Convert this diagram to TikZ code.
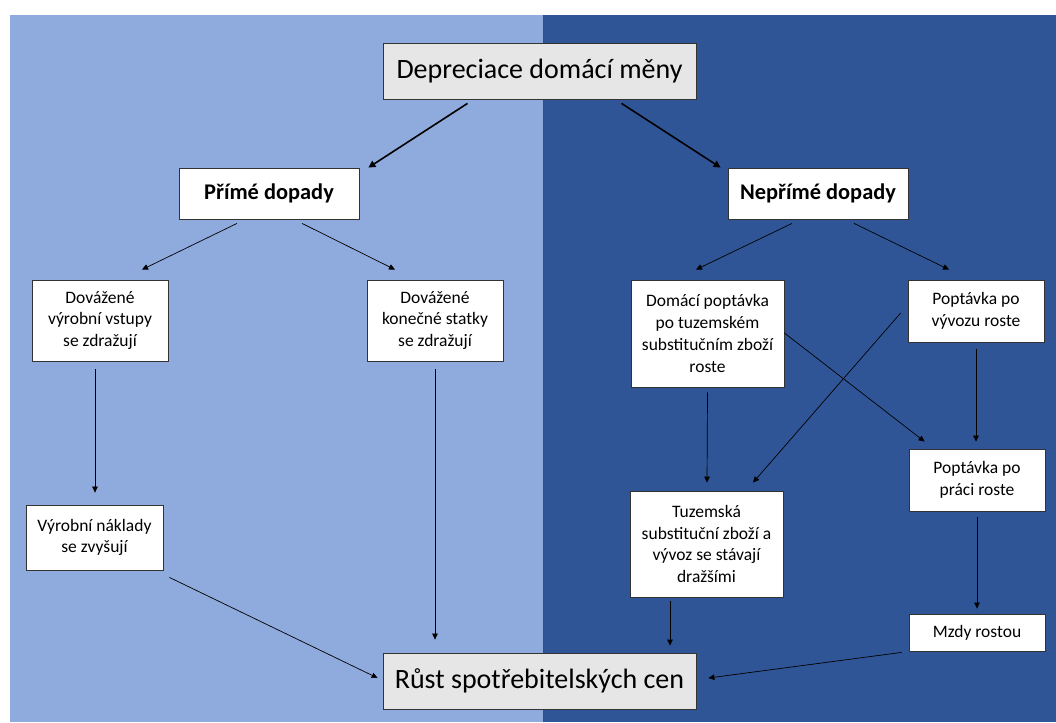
\documentclass[tikz,border=0pt]{standalone}
\usepackage{fontspec}
\setmainfont{Carlito}
\usetikzlibrary{calc,arrows.meta}
\definecolor{lightblue}{HTML}{8FAADC}
\definecolor{darkblue}{HTML}{2F5597}
\definecolor{boxgray}{HTML}{E7E6E6}

\tikzset{
  box/.style={draw=black!80, fill=white, line width=0.8pt, align=center, inner sep=2pt,
    font=\fontsize{17.5}{21.7}\selectfont},
  bigbox/.style={box, fill=boxgray, font=\fontsize{28}{32}\selectfont},
  headbox/.style={box, font=\fontsize{22.4}{26}\selectfont\bfseries},
  arr/.style={-{Triangle[length=6pt,width=5.5pt]}, line width=0.7pt},
  bigarr/.style={-{Triangle[length=7pt,width=7pt]}, line width=1.6pt}
}

\begin{document}
\begin{tikzpicture}[x=1pt,y=-1pt]
				\useasboundingbox (0,0) rectangle (1056,722);
				\fill[lightblue] (10,15) rectangle (543,722);
				\fill[darkblue]  (543,15) rectangle (1056,722);
				\draw[black!70, line width=0.8pt] (543,15) -- (543,722);
				
				\node[bigbox, minimum width=313, minimum height=56] (depr) at (539.5,71) {Depreciace domácí měny};
				\node[headbox, minimum width=180, minimum height=51] (prime) at (269,193.5) {Přímé dopady};
				\node[headbox, minimum width=180, minimum height=51] (neprime) at (818,193.5) {Nepřímé dopady};
				
				\node[box, minimum width=136, minimum height=81] (vstupy) at (100,320.5) {Dovážené\\výrobní vstupy\\se zdražují};
				\node[box, minimum width=136, minimum height=81] (statky) at (435,320.5) {Dovážené\\konečné statky\\se zdražují};
				\node[box, minimum width=137, minimum height=65] (naklady) at (94.5,537.5) {Výrobní náklady\\se zvyšují};
				
				\node[box, minimum width=153, minimum height=107] (domaci) at (707.5,333.5) {Domácí poptávka\\po tuzemském\\substitučním zboží\\roste};
				\node[box, minimum width=136, minimum height=62] (vyvoz) at (976,311) {Poptávka po\\vývozu roste};
				\node[box, minimum width=136, minimum height=62] (prace) at (977,480) {Poptávka po\\práci roste};
				\node[box, minimum width=136, minimum height=37] (mzdy) at (977,632.5) {Mzdy rostou};
				\node[box, minimum width=153, minimum height=106] (tuzem) at (706.5,544) {Tuzemská\\substituční zboží a\\vývoz se stávají\\dražšími};
				
				\node[bigbox, minimum width=313, minimum height=56] (rust) at (539.5,681) {Růst spotřebitelských cen};
				
				% from the top box
				\draw[bigarr] ([xshift=-72,yshift=-4]depr.south) -- ([xshift=9]prime.north east);
				\draw[bigarr] ([xshift=82,yshift=-4]depr.south) -- ([xshift=-7]neprime.north west);
				
				% direct effects
				\draw[arr] ([xshift=-32,yshift=-4]prime.south) -- ([xshift=42,yshift=10]vstupy.north);
				\draw[arr] ([xshift=33,yshift=-4]prime.south) -- ([xshift=-40,yshift=10]statky.north);
				\draw[arr] ([xshift=-5,yshift=-8]vstupy.south) -- ([xshift=0.5,yshift=12]naklady.north);
				\draw[arr] ([yshift=-8]statky.south) -- ([xshift=-104.5,yshift=13]rust.north);
				\draw[arr] ([xshift=6,yshift=-7]naklady.south east) -- ([xshift=-5,yshift=3]rust.west);
				
				% indirect effects
				\draw[arr] ([xshift=-26,yshift=-4]neprime.south) -- ([xshift=-11.5,yshift=10]domaci.north);
				\draw[arr] ([xshift=36,yshift=-4]neprime.south) -- ([xshift=-27,yshift=10]vyvoz.north);
				\draw[arr] ([yshift=0.5]domaci.east) -- ([xshift=16,yshift=7]prace.north west);
				\draw[arr] ([xshift=-7,yshift=-2]vyvoz.west) -- ([xshift=46.5,yshift=8]tuzem.north);
				\draw[arr] ([yshift=-5]domaci.south) -- ([xshift=0.5,yshift=8]tuzem.north);
				\draw[arr] ([yshift=-7]vyvoz.south) -- ([xshift=-1,yshift=7]prace.north);
				\draw[arr] ([yshift=-6]prace.south) -- ([yshift=5]mzdy.north);
				\draw[arr] ([xshift=-36.5,yshift=-4]tuzem.south) -- ([xshift=130.5,yshift=7]rust.north);
				\draw[arr] ([xshift=-7,yshift=-1]mzdy.south west) -- ([xshift=12,yshift=3]rust.east);
\end{tikzpicture}
\end{document}
